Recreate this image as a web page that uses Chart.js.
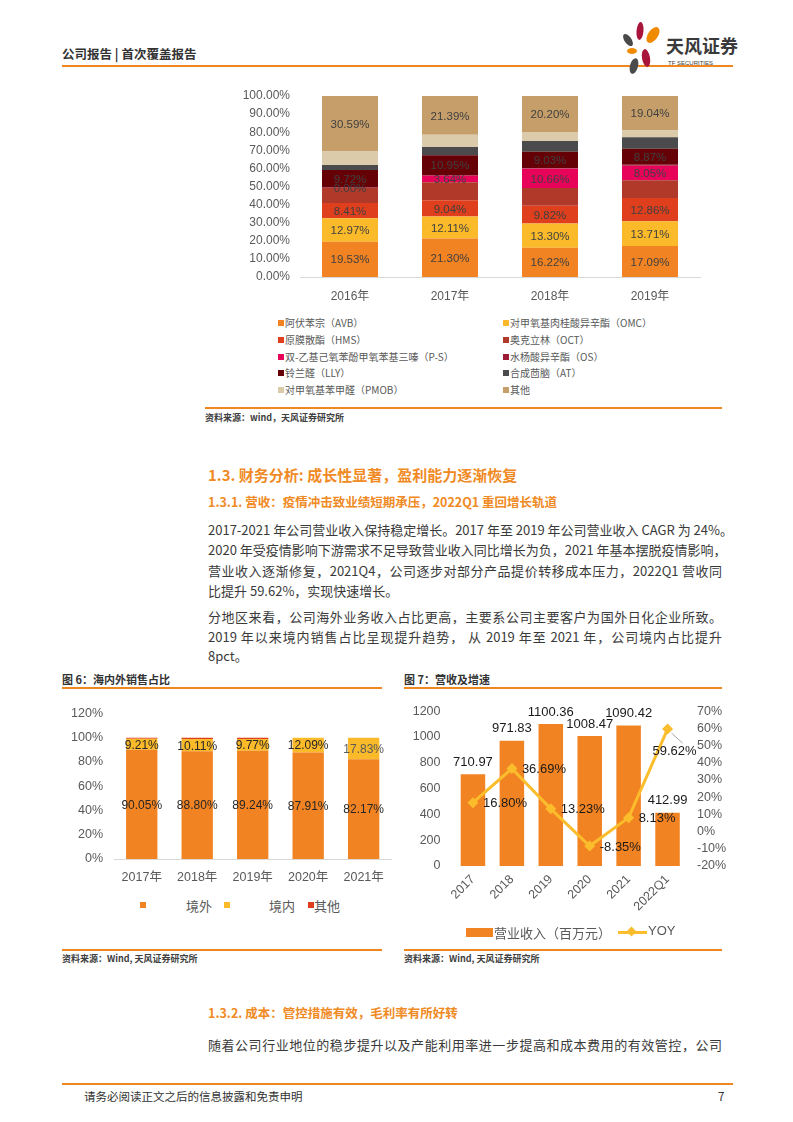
<!DOCTYPE html>
<html lang="zh-CN">
<head>
<meta charset="utf-8">
<title>公司报告</title>
<script src="https://cdn.jsdelivr.net/npm/chart.js@4.4.1/dist/chart.umd.min.js"></script>
<style>
  body { margin: 0; background: #fff; font-family: "Noto Sans CJK SC", sans-serif; color: #333; }
  #page { position: relative; width: 793px; height: 1122px; overflow: hidden; }
  .abs { position: absolute; white-space: nowrap; }
  .rule { position: absolute; height: 2px; background: #F0861E; }
  .src { position: absolute; font-size: 9px; font-weight: 700; color: #404040; white-space: nowrap; }
  .figt { position: absolute; font-size: 11px; font-weight: 700; color: #333; white-space: nowrap; }
  .line { position: absolute; left: 208px; width: 514px; height: 20px; line-height: 20px; font-size: 13px;
          color: #3a3a3a; text-align: justify; text-align-last: justify; white-space: nowrap; }
  .line.last { text-align-last: left; }
  .h2 { position: absolute; left: 208px; font-size: 15px; font-weight: 700; color: #F08A24; white-space: nowrap; }
  .h3 { position: absolute; left: 208px; font-size: 12.5px; font-weight: 700; color: #F08A24; white-space: nowrap; }
  .lg { position: absolute; font-size: 10px; color: #595959; white-space: nowrap; line-height: 12px; }
  .lg i { display: inline-block; width: 6px; height: 6px; margin-right: 1px; vertical-align: 1px; }
  canvas { position: absolute; }
</style>
</head>
<body>
<div id="page">
  <div class="abs" style="left:62px; top:44px; font-size:12.5px; font-weight:700; color:#333;">公司报告 | 首次覆盖报告</div>
  <div class="rule" style="left:62px; top:65px; width:671px;"></div>
  <svg class="abs" style="left:618px; top:18px;" width="120" height="58" viewBox="0 0 120 58">
    <ellipse cx="22" cy="13" rx="3.5" ry="9" fill="#A8143A" transform="rotate(5 22 13)"/>
    <ellipse cx="35" cy="17" rx="5" ry="9" fill="#F08A00" transform="rotate(35 35 17)"/>
    <ellipse cx="10" cy="22" rx="3.5" ry="7" fill="#4a4a4a" transform="rotate(-35 10 22)"/>
    <ellipse cx="14" cy="33" rx="5" ry="3" fill="#F08A00"/>
    <ellipse cx="28" cy="40" rx="4" ry="9" fill="#A8143A" transform="rotate(-10 28 40)"/>
    <ellipse cx="16" cy="48" rx="4" ry="8" fill="#4a4a4a" transform="rotate(15 16 48)"/>
    <text x="48" y="35" font-size="18" font-weight="700" fill="#3a3a3a" font-family="Noto Sans CJK SC">天风证券</text>
    <text x="50" y="47" font-size="6" fill="#3a3a3a" font-family="Liberation Sans">TF SECURITIES</text>
  </svg>

  <canvas id="mixChart" width="475" height="225" style="left:230px; top:80px;"></canvas>
  <div id="mixLegend"></div>
  <div class="rule" style="left:205px; top:407px; width:517px; height:1.5px;"></div>
  <div class="src" style="left:205px; top:411px;">资料来源：wind，天风证券研究所</div>

  <div class="h2" style="top:464px;">1.3. 财务分析: 成长性显著，盈利能力逐渐恢复</div>
  <div class="h3" style="top:492px;">1.3.1. 营收：疫情冲击致业绩短期承压，2022Q1 重回增长轨道</div>

  <div class="line" style="top:520px;">2017-2021 年公司营业收入保持稳定增长。2017 年至 2019 年公司营业收入 CAGR 为 24%。</div>
  <div class="line" style="top:540px;">2020 年受疫情影响下游需求不足导致营业收入同比增长为负，2021 年基本摆脱疫情影响，</div>
  <div class="line" style="top:561px;">营业收入逐渐修复，2021Q4，公司逐步对部分产品提价转移成本压力，2022Q1 营收同</div>
  <div class="line last" style="top:581px;">比提升 59.62%，实现快速增长。</div>
  <div class="line" style="top:607px;">分地区来看，公司海外业务收入占比更高，主要系公司主要客户为国外日化企业所致。</div>
  <div class="line" style="top:627px;">2019 年以来境内销售占比呈现提升趋势， 从 2019 年至 2021 年，公司境内占比提升</div>
  <div class="line last" style="top:646px;">8pct。</div>

  <div class="figt" style="left:62px; top:671px;">图 6：海内外销售占比</div>
  <div class="rule" style="left:62px; top:687px; width:320px; height:1.5px;"></div>
  <div class="figt" style="left:404px; top:671px;">图 7：营收及增速</div>
  <div class="rule" style="left:404px; top:687px; width:318px; height:1.5px;"></div>

  <canvas id="regionChart" width="333" height="200" style="left:62px; top:695px;"></canvas>
  <div id="regionLegend"></div>
  <canvas id="revChart" width="326" height="233" style="left:404px; top:692px;"></canvas>
  <div id="revLegend"></div>

  <div class="rule" style="left:62px; top:949px; width:320px; height:1.5px;"></div>
  <div class="src" style="left:62px; top:952px;">资料来源：Wind, 天风证券研究所</div>
  <div class="rule" style="left:404px; top:949px; width:318px; height:1.5px;"></div>
  <div class="src" style="left:404px; top:952px;">资料来源：Wind, 天风证券研究所</div>

  <div class="h3" style="top:1003px;">1.3.2. 成本：管控措施有效，毛利率有所好转</div>
  <div class="line" style="top:1035px;">随着公司行业地位的稳步提升以及产能利用率进一步提高和成本费用的有效管控，公司</div>

  <div class="rule" style="left:62px; top:1083px; width:671px;"></div>
  <div class="abs" style="left:84px; top:1088px; font-size:11.5px; color:#333;">请务必阅读正文之后的信息披露和免责申明</div>
  <div class="abs" style="left:718px; top:1088px; font-size:11.5px; color:#333;">7</div>
</div>

<script>
// ---- 图：产品结构（2016-2019）
const mixYears = ["2016年", "2017年", "2018年", "2019年"];
const mixNames = ["阿伏苯宗（AVB）", "对甲氧基肉桂酸异辛酯（OMC）", "原膜散酯（HMS）", "奥克立林（OCT）",
  "双-乙基己氧苯酚甲氧苯基三嗪（P-S）", "水杨酸异辛酯（OS）", "铃兰醛（LLY）", "合成茴脑（AT）",
  "对甲氧基苯甲醛（PMOB）", "其他"];
const mixColors = ["#F28322", "#FBBA2A", "#DF3F1D", "#B0392A", "#E8035A", "#9E1B36", "#650007", "#4B4B4D", "#DCCBAA", "#C59E6A"];
const avb = [19.53, 21.30, 16.22, 17.09];
const omc = [12.97, 12.11, 13.30, 13.71];
const hms = [8.41, 9.04, 9.82, 12.86];
const oct = [8.2, 9.9, 9.8, 9.8];
const ps = [0.00, 3.64, 10.66, 8.05];
const os = [0.3, 0.3, 0.3, 0.45];
const lly = [9.72, 10.95, 9.03, 8.87];
const at = [2.8, 4.6, 6.05, 6.4];
const pmob = [7.45, 6.75, 4.6, 3.7];
const other = [30.59, 21.39, 20.20, 19.04];
const mixLabelled = [true, true, true, false, true, false, true, false, false, true];

// ---- 图6：海内外销售占比
const regionYears = ["2017年", "2018年", "2019年", "2020年", "2021年"];
const overseas = [90.05, 88.80, 89.24, 87.91, 82.17];
const domestic = [9.21, 10.11, 9.77, 12.09, 17.83];
const otherRegion = [0.74, 1.09, 0.99, 0.00, 0.00];

// ---- 图7：营收及增速
const revYears = ["2017", "2018", "2019", "2020", "2021", "2022Q1"];
const revenue = [710.97, 971.83, 1100.36, 1008.47, 1090.42, 412.99];
const yoy = [16.80, 36.69, 13.23, -8.35, 8.13, 59.62];

const TICK = "#595959";
const FONT = "'Liberation Sans', 'Noto Sans CJK SC', sans-serif";

function fixedWidth(w) { return (scale) => { scale.width = w; }; }
function fixedHeight(h) { return (scale) => { scale.height = h; }; }

// draws value text on chosen datasets
function labelPlugin(draw) {
  return {
    id: "labels",
    afterDatasetsDraw(chart) {
      const ctx = chart.ctx;
      ctx.save();
      ctx.textBaseline = "middle";
      chart.data.datasets.forEach((ds, i) => {
        chart.getDatasetMeta(i).data.forEach((el, j) => draw(ctx, ds, i, el, j));
      });
      ctx.restore();
    }
  };
}

const mixSeries = [avb, omc, hms, oct, ps, os, lly, at, pmob, other];

new Chart(document.getElementById("mixChart"), {
  type: "bar",
  data: {
    labels: mixYears,
    datasets: mixSeries.map((d, i) => ({
      label: mixNames[i], data: d, backgroundColor: mixColors[i],
      borderWidth: 0, barPercentage: 0.56, categoryPercentage: 1
    }))
  },
  options: {
    responsive: false, animation: false,
    layout: { padding: { top: 10, right: 5 } },
    plugins: { legend: { display: false }, tooltip: { enabled: false } },
    scales: {
      x: {
        stacked: true, afterFit: fixedHeight(28),
        grid: { display: false, drawTicks: false },
        border: { color: "#D9D9D9" },
        ticks: { color: TICK, font: { family: FONT, size: 12 }, padding: 12 }
      },
      y: {
        stacked: true, min: 0, max: 100, afterFit: fixedWidth(70),
        grid: { display: false, drawTicks: false }, border: { display: false },
        ticks: { stepSize: 10, color: TICK, font: { family: FONT, size: 12, lineHeight: 1 }, padding: 10,
                 callback: (v) => v.toFixed(2) + "%" }
      }
    }
  },
  plugins: [labelPlugin((ctx, ds, i, el, j) => {
    if (!mixLabelled[i]) return;
    ctx.font = "11.5px " + FONT;
    ctx.fillStyle = "#404040";
    ctx.textAlign = "center";
    ctx.fillText(ds.data[j].toFixed(2) + "%", el.x, (el.y + el.base) / 2 + 1);
  })]
});

// two-column legend for the product chart
const mixLegend = document.getElementById("mixLegend");
const rowY = [317, 334, 351, 367, 384];
mixNames.forEach((name, i) => {
  const d = document.createElement("div");
  d.className = "lg";
  d.style.left = (i % 2 === 0 ? 278 : 503) + "px";
  d.style.top = rowY[Math.floor(i / 2)] + "px";
  d.innerHTML = `<i style="background:${mixColors[i]}"></i>${name}`;
  mixLegend.appendChild(d);
});

new Chart(document.getElementById("regionChart"), {
  type: "bar",
  data: {
    labels: regionYears,
    datasets: [
      { label: "境外", data: overseas, backgroundColor: "#F28322" },
      { label: "境内", data: domestic, backgroundColor: "#FBBA2A" },
      { label: "其他", data: otherRegion, backgroundColor: "#DF3F1D" }
    ].map((d) => ({ ...d, borderWidth: 0, barPercentage: 0.565, categoryPercentage: 1 }))
  },
  options: {
    responsive: false, animation: false,
    layout: { padding: { top: 8, right: 2 } },
    plugins: { legend: { display: false }, tooltip: { enabled: false } },
    scales: {
      x: {
        stacked: true, afterFit: fixedHeight(36),
        grid: { display: false, drawTicks: false },
        border: { color: "#D9D9D9" },
        ticks: { color: TICK, font: { family: FONT, size: 12.5 }, padding: 11 }
      },
      y: {
        stacked: true, min: 0, max: 120, afterFit: fixedWidth(52),
        grid: { display: false, drawTicks: false }, border: { display: false },
        ticks: { stepSize: 20, color: TICK, font: { family: FONT, size: 12.5 }, padding: 11,
                 callback: (v) => v + "%" }
      }
    }
  },
  plugins: [labelPlugin((ctx, ds, i, el, j) => {
    if (i > 1) return;
    ctx.font = "12px " + FONT;
    ctx.fillStyle = (i === 1 && j === 4) ? "#595959" : "#262626";
    ctx.textAlign = "center";
    ctx.fillText(ds.data[j].toFixed(2) + "%", el.x, (el.y + el.base) / 2 + 1);
  })]
});

const regionLegend = document.getElementById("regionLegend");
[
  { x: 140, sw: "#F28322" }, { x: 186, text: "境外" },
  { x: 224, sw: "#FBBA2A" }, { x: 269, text: "境内" },
  { x: 308, sw: "#DF3F1D" }, { x: 314, text: "其他" }
].forEach((it) => {
  const d = document.createElement("div");
  d.className = "abs";
  d.style.left = it.x + "px";
  if (it.sw) {
    d.style.top = "902px";
    d.style.width = "6px"; d.style.height = "6px"; d.style.background = it.sw;
  } else {
    d.style.top = "896px";
    d.style.fontSize = "13px"; d.style.color = "#595959";
    d.textContent = it.text;
  }
  regionLegend.appendChild(d);
});

const YELLOW = "#FBBD2C";

new Chart(document.getElementById("revChart"), {
  data: {
    labels: revYears,
    datasets: [
      { type: "line", label: "YOY", data: yoy, yAxisID: "y1", order: 0,
        borderColor: YELLOW, backgroundColor: YELLOW, borderWidth: 3,
        pointStyle: "rectRot", pointRadius: 5.5, pointBackgroundColor: YELLOW, pointBorderWidth: 0,
        tension: 0 },
      { type: "bar", label: "营业收入（百万元）", data: revenue, yAxisID: "y", order: 1,
        backgroundColor: "#F28322", borderWidth: 0, barPercentage: 0.63, categoryPercentage: 1 }
    ]
  },
  options: {
    responsive: false, animation: false,
    layout: { padding: { top: 11 } },
    plugins: { legend: { display: false }, tooltip: { enabled: false } },
    scales: {
      x: {
        afterFit: fixedHeight(59),
        grid: { display: false, drawTicks: false },
        border: { display: false },
        ticks: { color: TICK, font: { family: FONT, size: 12.5 }, padding: 6,
                 minRotation: 45, maxRotation: 45 }
      },
      y: {
        position: "left", min: 0, max: 1200, afterFit: fixedWidth(49.5),
        grid: { display: false, drawTicks: false }, border: { display: false },
        ticks: { stepSize: 200, color: TICK, font: { family: FONT, size: 12.5, lineHeight: 1 }, padding: 13,
                 callback: (v) => String(v) }
      },
      y1: {
        position: "right", min: -20, max: 70, afterFit: fixedWidth(43),
        grid: { display: false, drawTicks: false }, border: { display: false },
        ticks: { stepSize: 10, autoSkip: false, color: TICK, font: { family: FONT, size: 12.5, lineHeight: 1 },
                 padding: 10, callback: (v) => v + "%" }
      }
    }
  },
  plugins: [labelPlugin((ctx, ds, i, el, j) => {
    ctx.font = "13px " + FONT;
    ctx.fillStyle = "#1a1a1a";
    const v = ds.data[j];
    if (ds.type === "bar") {
      ctx.textAlign = "center";
      ctx.fillText(v.toFixed(2), el.x, el.y - 12);
    } else if (j === revYears.length - 1) {
      ctx.strokeStyle = "#A6A6A6";
      ctx.lineWidth = 1;
      ctx.beginPath();
      ctx.moveTo(el.x + 4, el.y + 4);
      ctx.lineTo(el.x + 15, el.y + 14);
      ctx.stroke();
      ctx.textAlign = "center";
      ctx.fillText(v.toFixed(2) + "%", el.x + 7, el.y + 22);
    } else {
      ctx.textAlign = "left";
      ctx.fillText(v.toFixed(2) + "%", el.x + 10, el.y + 1);
    }
  })]
});

document.getElementById("revLegend").innerHTML = `
  <div class="abs" style="left:466px; top:928px; width:27px; height:9px; background:#F28322;"></div>
  <div class="abs" style="left:494px; top:923px; font-size:13px; color:#595959;">营业收入（百万元）</div>
  <div class="abs" style="left:618px; top:931px; width:29px; height:3px; background:${YELLOW};"></div>
  <div class="abs" style="left:628px; top:928px; width:7px; height:7px; background:${YELLOW}; transform:rotate(45deg);"></div>
  <div class="abs" style="left:648px; top:923px; font-size:13px; color:#595959; font-family:'Liberation Sans';">YOY</div>`;
</script>
</body>
</html>
